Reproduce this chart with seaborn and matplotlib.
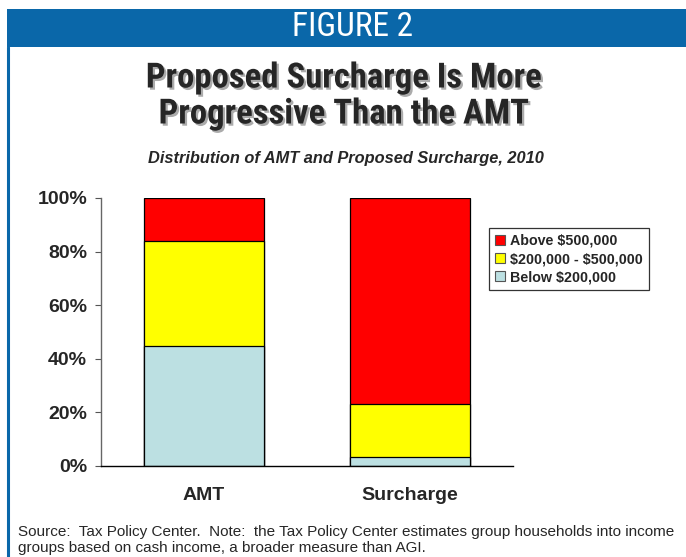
import matplotlib
matplotlib.use("Agg")
import matplotlib.pyplot as plt
import matplotlib.patheffects as pe
from matplotlib.patches import Rectangle, Patch
from matplotlib.lines import Line2D
import pandas as pd
import seaborn as sns

# Share of each tax, by income group (percent)
categories = ["AMT", "Surcharge"]
below_200k = [44.6, 3.2]
between_200k_500k = [39.4, 20.0]
above_500k = [16.0, 76.8]

group_labels = ["Above \\$500,000", "\\$200,000 - \\$500,000", "Below \\$200,000"]
group_colors = ["#FF0000", "#FFFF00", "#BCE0E2"]
y_ticks = [0, 20, 40, 60, 80, 100]
y_tick_labels = ["0%", "20%", "40%", "60%", "80%", "100%"]

sns.set_style("white")
plt.rcParams["font.family"] = ["Liberation Sans", "DejaVu Sans"]
narrow = ["Roboto Condensed", "Liberation Sans Narrow", "Roboto", "DejaVu Sans"]

df = pd.DataFrame({
    "category": categories,
    "below": below_200k,
    "middle": between_200k_500k,
    "above": above_500k,
})
df["top_mid"] = df["below"] + df["middle"]
df["top_all"] = df["top_mid"] + df["above"]

fig = plt.figure(figsize=(6.86, 5.57), dpi=100)
ax = fig.add_axes([101 / 686, 91 / 557, 412 / 686, 268 / 557])

# Stacked bars: draw cumulative totals from the tallest layer down
bar_w = 0.587
for col, color in zip(["top_all", "top_mid", "below"], group_colors):
    sns.barplot(data=df, x="category", y=col, color=color, width=bar_w,
                edgecolor="black", linewidth=0.9, saturation=1, ax=ax)

ax.set_xlim(-0.5, 1.5)
ax.set_ylim(0, 100)
ax.set_yticks(y_ticks)
ax.set_yticklabels(y_tick_labels, fontsize=14, fontweight="bold")
ax.set_xlabel("")
ax.set_ylabel("")

# Category labels centred under bars, ticks at category boundaries
ax.set_xticks([-0.5, 0.5, 1.5])
ax.set_xticklabels(["", "", ""])
ax.tick_params(axis="x", direction="out", length=4, width=0.8, color="#333333")
ax.tick_params(axis="y", direction="out", length=4, width=0.8, color="#555555",
               pad=6, left=True)
for i, cat in enumerate(categories):
    ax.text(i, -11, cat, ha="center", va="center", fontsize=14,
            fontweight="bold", transform=ax.transData, clip_on=False)

for side in ["top", "right"]:
    ax.spines[side].set_visible(False)
ax.spines["left"].set_color("#666666")
ax.spines["left"].set_linewidth(1.0)
ax.spines["bottom"].set_color("black")
ax.spines["bottom"].set_linewidth(1.0)

# Legend
handles = [Patch(facecolor=c, edgecolor="#555555", linewidth=0.8) for c in group_colors]
leg = fig.legend(handles, group_labels, loc="upper left",
                 bbox_to_anchor=(489 / 686, 1 - 228 / 557),
                 prop={"weight": "bold", "size": 10.3},
                 frameon=True, fancybox=False, handlelength=0.7, handleheight=0.7,
                 handletextpad=0.4, borderpad=0.4, labelspacing=0.3,
                 borderaxespad=0)
leg.get_frame().set_edgecolor("black")
leg.get_frame().set_linewidth(0.9)

# Header band and left border
blue = "#0A67A9"
fig.patches.append(Rectangle((7 / 686, 1 - 47 / 557), 1 - 7 / 686, 38 / 557,
                             transform=fig.transFigure, facecolor=blue,
                             edgecolor="none", zorder=0))
fig.lines.append(Line2D([8 / 686, 8 / 686], [0, 1 - 47 / 557],
                        transform=fig.transFigure, color=blue, linewidth=2.2))
fig.text(352 / 686, 1 - 27 / 557, "FIGURE 2", color="white", fontsize=24,
         ha="center", va="center", family=narrow)

# Titles
shadow = [pe.withSimplePatchShadow(offset=(1.6, -1.6), shadow_rgbFace="#888888", alpha=0.7)]
fig.text(344 / 686, 1 - 78 / 557, "Proposed Surcharge Is More", fontsize=25,
         fontweight="bold", ha="center", va="center", path_effects=shadow,
         family=narrow)
fig.text(344 / 686, 1 - 114 / 557, "Progressive Than the AMT", fontsize=25,
         fontweight="bold", ha="center", va="center", path_effects=shadow,
         family=narrow)
fig.text(346 / 686, 1 - 159 / 557, "Distribution of AMT and Proposed Surcharge, 2010",
         fontsize=11.8, fontweight="bold", style="italic", ha="center", va="center")

# Source note
fig.text(18 / 686, 1 - 532 / 557,
         "Source:  Tax Policy Center.  Note:  the Tax Policy Center estimates group households into income",
         fontsize=11, ha="left", va="center")
fig.text(18 / 686, 1 - 548 / 557,
         "groups based on cash income, a broader measure than AGI.",
         fontsize=11, ha="left", va="center")

fig.savefig("out.png", dpi=100)
